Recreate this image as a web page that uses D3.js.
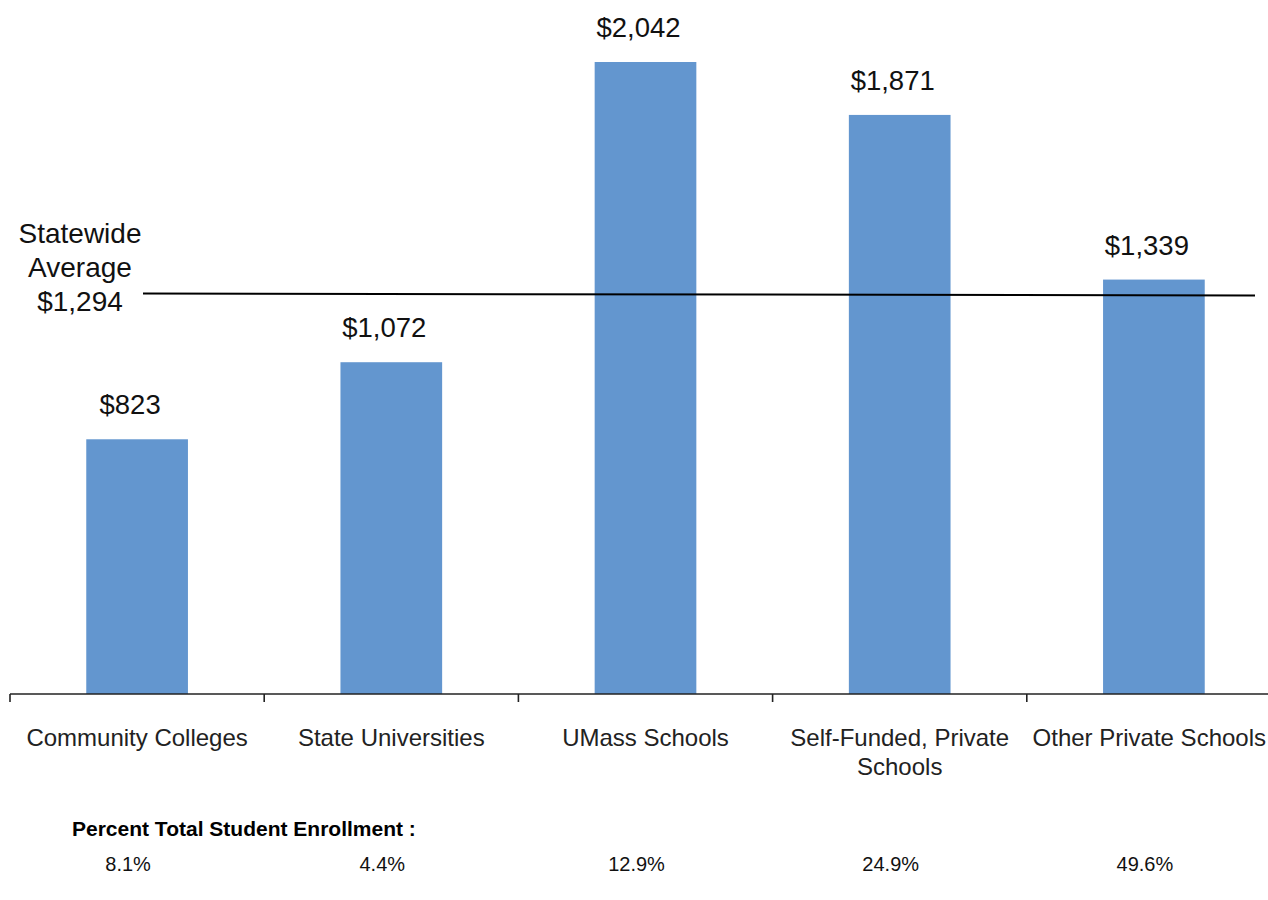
<!DOCTYPE html>
<html>
<head>
<meta charset="utf-8">
<script src="https://cdn.jsdelivr.net/npm/d3@7"></script>
<style>
  html, body { margin: 0; padding: 0; background: #ffffff; }
  svg { display: block; font-family: "Liberation Sans", Arial, Helvetica, sans-serif; }
</style>
</head>
<body>
<svg id="chart" width="1268" height="900"></svg>
<script>
// Spending per student by school type
const categories = ["Community Colleges", "State Universities", "UMass Schools", "Self-Funded, Private Schools", "Other Private Schools"];
const categoryLines = [["Community Colleges"], ["State Universities"], ["UMass Schools"], ["Self-Funded, Private", "Schools"], ["Other Private Schools"]];
const spending = [823, 1072, 2042, 1871, 1339];
const statewideAverage = 1294;
const enrollmentShare = ["8.1%", "4.4%", "12.9%", "24.9%", "49.6%"];
const averageLabel = ["Statewide", "Average", "$1,294"];
const enrollmentTitle = "Percent Total Student Enrollment :";

const svg = d3.select("#chart");
const W = 1268, H = 900;
const baseY = 694;

const x = d3.scaleBand()
  .domain(categories)
  .range([10, 1281])
  .paddingInner(0.6)
  .paddingOuter(0.3);

const y = d3.scaleLinear()
  .domain([0, 2042])
  .range([baseY, 62]);

const fmt = v => "$" + d3.format(",")(v);

// bars
svg.append("g").selectAll("rect")
  .data(categories)
  .join("rect")
  .attr("x", d => x(d))
  .attr("y", (d, i) => y(spending[i]))
  .attr("width", x.bandwidth())
  .attr("height", (d, i) => baseY - y(spending[i]))
  .attr("fill", "#6396cf");

// value labels above bars
svg.append("g").selectAll("text")
  .data(categories)
  .join("text")
  .attr("x", d => x(d) + x.bandwidth() / 2 - 7)
  .attr("y", (d, i) => y(spending[i]) - 25)
  .attr("text-anchor", "middle")
  .attr("font-size", 27.5)
  .attr("fill", "#111")
  .text((d, i) => fmt(spending[i]));

// category axis with ticks between bands
const step = x.step();
const boundaries = categories.map(d => x(d) - step * x.paddingOuter());
const axis = svg.append("g").attr("stroke", "#222").attr("stroke-width", 1.6);
axis.append("line")
  .attr("x1", boundaries[0]).attr("x2", W)
  .attr("y1", baseY).attr("y2", baseY);
axis.selectAll("line.tick")
  .data(boundaries)
  .join("line")
  .attr("class", "tick")
  .attr("x1", d => d).attr("x2", d => d)
  .attr("y1", baseY).attr("y2", baseY + 8);

// category labels, nudged inward if they would run past the right edge
const catG = svg.append("g")
  .attr("font-size", 24)
  .attr("fill", "#222")
  .attr("text-anchor", "middle");
categories.forEach((c, i) => {
  const t = catG.append("text")
    .attr("y", 746);
  categoryLines[i].forEach((line, j) => {
    t.append("tspan")
      .attr("dy", j === 0 ? 0 : 29)
      .text(line);
  });
  let cx = x(c) + x.bandwidth() / 2;
  t.selectAll("tspan").attr("x", cx);
  const box = t.node().getBBox();
  const overflow = box.x + box.width - (W - 2);
  if (overflow > 0) {
    cx -= overflow;
    t.selectAll("tspan").attr("x", cx);
  }
});

// statewide average reference line and label
svg.append("line")
  .attr("x1", 143).attr("x2", 1255)
  .attr("y1", y(statewideAverage)).attr("y2", y(statewideAverage) + 2)
  .attr("stroke", "#000")
  .attr("stroke-width", 2);

const avgText = svg.append("text")
  .attr("x", 80)
  .attr("y", 243)
  .attr("text-anchor", "middle")
  .attr("font-size", 28)
  .attr("fill", "#111");
averageLabel.forEach((line, j) => {
  avgText.append("tspan")
    .attr("x", 80)
    .attr("dy", j === 0 ? 0 : 34)
    .text(line);
});

// enrollment share row
svg.append("text")
  .attr("x", 72)
  .attr("y", 836)
  .attr("font-size", 21)
  .attr("font-weight", "bold")
  .attr("fill", "#000")
  .text(enrollmentTitle);

svg.append("g").selectAll("text")
  .data(categories)
  .join("text")
  .attr("x", d => x(d) + x.bandwidth() / 2 - 9)
  .attr("y", 871)
  .attr("text-anchor", "middle")
  .attr("font-size", 20)
  .attr("fill", "#111")
  .text((d, i) => enrollmentShare[i]);
</script>
</body>
</html>
